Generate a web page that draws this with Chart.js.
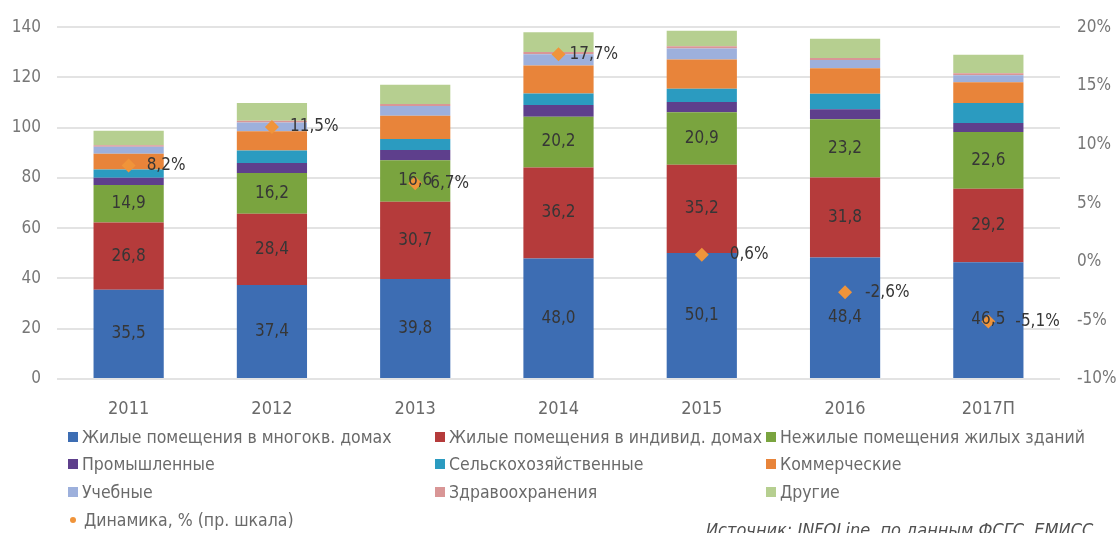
<!DOCTYPE html>
<html lang="ru">
<head>
<meta charset="utf-8">
<title>Ввод зданий по назначению</title>
<script src="https://cdn.jsdelivr.net/npm/chart.js@4.4.1/dist/chart.umd.min.js"></script>
<style>
  html, body { margin: 0; padding: 0; background: #fff; }
  #wrap {
    position: relative; width: 1118px; height: 533px; overflow: hidden;
    font-family: "Liberation Sans Narrow", "DejaVu Sans Condensed", "Roboto", sans-serif;
  }
  #chart { position: absolute; left: 0; top: 0; }
  .lg { position: absolute; display: flex; align-items: center; font-size: 17.5px; color: #6a6a6a; white-space: nowrap; transform: translateY(-50%); }
  .lg i { display: inline-block; width: 10px; height: 10px; margin-right: 4px; }
  .lg i.dot { width: 6px; height: 6px; border-radius: 50%; margin: 0 8px 0 2px; }
  #src { position: absolute; left: 706px; top: 519px; font-style: italic; font-size: 18px; color: #505050; white-space: nowrap; }
</style>
</head>
<body>
<div id="wrap">
  <canvas id="chart" width="1118" height="533"></canvas>
  <div id="legend"></div>
  <div id="src">Источник: INFOLine, по данным ФСГС, ЕМИСС</div>
</div>
<script>
  const years = ['2011', '2012', '2013', '2014', '2015', '2016', '2017П'];

  // млн кв. м по видам зданий
  const flatsMulti  = [35.5, 37.4, 39.8, 48.0, 50.1, 48.4, 46.5];
  const flatsIndiv  = [26.8, 28.4, 30.7, 36.2, 35.2, 31.8, 29.2];
  const nonResidual = [14.9, 16.2, 16.6, 20.2, 20.9, 23.2, 22.6];
  const industrial  = [2.9, 4.0, 4.0, 4.6, 4.0, 3.9, 3.6];
  const agro        = [3.3, 4.9, 4.4, 4.6, 5.3, 6.2, 7.9];
  const commercial  = [6.2, 7.7, 9.3, 11.2, 11.6, 10.2, 8.3];
  const education   = [2.8, 3.5, 3.8, 4.4, 4.4, 3.2, 2.8];
  const health      = [0.6, 0.7, 0.8, 0.9, 0.9, 0.8, 0.8];
  const other       = [5.8, 7.0, 7.7, 7.9, 6.2, 7.7, 7.3];

  // динамика, % к предыдущему году
  const dynamics = [8.2, 11.5, 6.7, 17.7, 0.6, -2.6, -5.1];

  const leftTicks = [0, 140, 20];
  const rightTicks = [-10, 20, 5];

  const barSeries = [
    { label: 'Жилые помещения в многокв. домах', data: flatsMulti, color: '#3d6db3', labels: true },
    { label: 'Жилые помещения в индивид. домах', data: flatsIndiv, color: '#b53b3b', labels: true },
    { label: 'Нежилые помещения жилых зданий', data: nonResidual, color: '#7aa43f', labels: true },
    { label: 'Промышленные', data: industrial, color: '#5e3f8c' },
    { label: 'Сельскохозяйственные', data: agro, color: '#2b9bc0' },
    { label: 'Коммерческие', data: commercial, color: '#e8843a' },
    { label: 'Учебные', data: education, color: '#9db0dc' },
    { label: 'Здравоохранения', data: health, color: '#d99696' },
    { label: 'Другие', data: other, color: '#b6cf90' }
  ];
  const dynColor = '#f0943a';
  // сдвиг подписей динамики вправо от ромба, px
  const dynLabelShift = [18, 18, 15, 11, 28, 20, 27];

  const fmt = v => v.toFixed(1).replace('.', ',');
  const FONT = '"Liberation Sans Narrow", "DejaVu Sans Condensed", Roboto, sans-serif';

  const datasets = barSeries.map(s => ({
    type: 'bar',
    label: s.label,
    data: s.data,
    backgroundColor: s.color,
    stack: 'all',
    yAxisID: 'y',
    order: 1,
    barPercentage: 0.49,
    categoryPercentage: 1,
    showValues: !!s.labels
  }));
  datasets.push({
    type: 'line',
    label: 'Динамика, % (пр. шкала)',
    data: dynamics,
    yAxisID: 'y1',
    order: 0,
    showLine: false,
    pointStyle: 'rectRot',
    pointRadius: 7,
    pointBackgroundColor: dynColor,
    pointBorderWidth: 0,
    isDynamics: true
  });

  // подписи значений внутри сегментов и у ромбов
  const valueLabels = {
    id: 'valueLabels',
    afterDatasetsDraw(chart) {
      const ctx = chart.ctx;
      ctx.save();
      ctx.font = '17px ' + FONT;
      ctx.fillStyle = '#363636';
      ctx.textBaseline = 'middle';
      chart.data.datasets.forEach((ds, i) => {
        const meta = chart.getDatasetMeta(i);
        if (ds.showValues) {
          ctx.textAlign = 'center';
          meta.data.forEach((el, j) => {
            ctx.fillText(fmt(ds.data[j]), el.x, (el.y + el.base) / 2);
          });
        }
        if (ds.isDynamics) {
          ctx.textAlign = 'left';
          meta.data.forEach((el, j) => {
            ctx.fillText(fmt(ds.data[j]) + '%', el.x + dynLabelShift[j], el.y);
          });
        }
      });
      ctx.restore();
    }
  };

  new Chart(document.getElementById('chart'), {
    data: { labels: years, datasets: datasets },
    options: {
      responsive: false,
      animation: false,
      layout: { padding: { top: 25, left: 0, right: 0, bottom: 114 } },
      plugins: { legend: { display: false }, tooltip: { enabled: false } },
      scales: {
        x: {
          stacked: true,
          grid: { display: false, drawTicks: false },
          border: { display: false },
          ticks: { color: '#6a6a6a', padding: 20, font: { family: FONT, size: 18 } },
          afterFit: s => { s.height = 40; }
        },
        y: {
          stacked: true,
          position: 'left',
          min: leftTicks[0], max: leftTicks[1],
          grid: { color: '#e3e3e3', lineWidth: 2, drawTicks: false },
          border: { display: false },
          ticks: { stepSize: leftTicks[2], color: '#777', padding: 16, font: { family: FONT, size: 17 } },
          afterFit: s => { s.width = 57; }
        },
        y1: {
          position: 'right',
          min: rightTicks[0], max: rightTicks[1],
          grid: { display: false, drawTicks: false },
          border: { display: false },
          ticks: { stepSize: rightTicks[2], color: '#777', padding: 17, font: { family: FONT, size: 17 },
                   callback: v => v + '%' },
          afterFit: s => { s.width = 58; }
        }
      }
    },
    plugins: [valueLabels]
  });

  // легенда в три колонки
  const colX = [68, 435, 766];
  const rowY = [437, 464, 492, 520];
  const legend = document.getElementById('legend');
  const items = barSeries.map(s => ({ label: s.label, color: s.color, dot: false }));
  items.push({ label: 'Динамика, % (пр. шкала)', color: dynColor, dot: true });
  items.forEach((it, k) => {
    const d = document.createElement('div');
    d.className = 'lg';
    d.style.left = colX[k % 3] + 'px';
    d.style.top = rowY[Math.floor(k / 3)] + 'px';
    d.innerHTML = '<i class="' + (it.dot ? 'dot' : '') + '" style="background:' + it.color + '"></i>' + it.label;
    legend.appendChild(d);
  });
</script>
</body>
</html>
